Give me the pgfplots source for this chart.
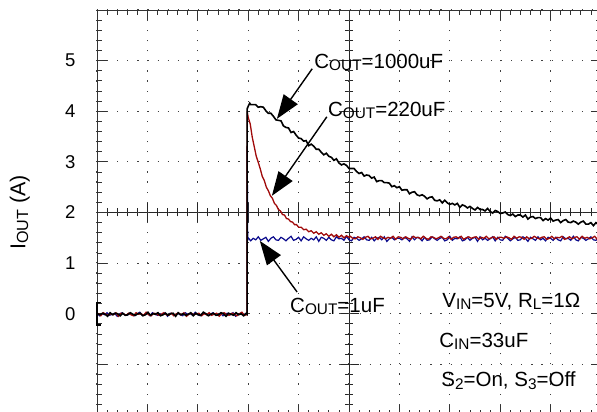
\documentclass[border=0pt]{standalone}
\usepackage{fontspec}
\setmainfont{Liberation Sans}
\usepackage{graphicx}
\usepackage{pgfplots}
\pgfplotsset{compat=1.18}
\usetikzlibrary{arrows.meta}
\definecolor{trblue}{RGB}{10,10,140}
\definecolor{trred}{RGB}{160,10,10}
\newcommand{\sub}[1]{\raisebox{-0.12em}{\scalebox{0.75}{#1}}}
\begin{document}
\begin{tikzpicture}
% centre crosshair of the scope screen
\draw[black!85, line width=0.9pt] (0,202.5pt) -- (504pt,202.5pt);
\draw[black!85, line width=0.9pt] (252pt,0) -- (252pt,405pt);
\foreach \i in {0,...,50} \draw[black!85, line width=0.8pt] (\i*10.08pt,198.5pt) -- ++(0,8pt);
\foreach \i in {0,...,10} \draw[black!85, line width=0.8pt] (\i*50.4pt,192.5pt) -- ++(0,20pt);
\foreach \j in {0,...,40} \draw[black!85, line width=0.8pt] (248pt,\j*10.125pt) -- ++(8pt,0);
\foreach \j in {0,...,8} \draw[black!85, line width=0.8pt] (242pt,\j*50.625pt) -- ++(20pt,0);
\begin{axis}[
  at={(0,0)}, anchor=south west, scale only axis,
  width=504pt, height=405pt,
  xmin=0, xmax=10, ymin=-2, ymax=6,
  axis line style={black!80, line width=0.9pt},
  xtick={0,...,10}, xticklabels={},
  ytick={-2,...,6}, yticklabels={{},{},0,1,2,3,4,5,{}},
  minor x tick num=4, minor y tick num=4,
  major tick length=10pt, minor tick length=5pt,
  tick style={black!80, line width=0.8pt},
  grid=major,
  major grid style={black!75, line width=1.2pt, dash pattern=on 1.2pt off 8.9pt},
  /pgf/number format/assume math mode=true,
  tick label style={font=\fontsize{18.5}{18.5}\selectfont},
  yticklabel style={xshift=-18pt},
  ylabel={I\sub{OUT} (A)},
  ylabel style={at={(axis description cs:-0.153,0.5)}, anchor=center, font=\fontsize{21.5}{21.5}\selectfont},
  clip=false,
]
% C_OUT = 1 uF
\addplot[trblue, line width=1.2pt] table {
0.00 0.01
0.05 -0.04
0.10 0.00
0.15 -0.02
0.20 0.02
0.25 -0.03
0.30 -0.01
0.35 0.01
0.40 -0.05
0.45 0.00
0.50 0.02
0.55 -0.02
0.60 -0.03
0.65 0.01
0.70 -0.01
0.75 -0.04
0.80 0.00
0.85 0.03
0.90 -0.03
0.95 -0.02
1.00 0.01
1.05 -0.04
1.10 0.02
1.15 -0.01
1.20 -0.03
1.25 0.00
1.30 -0.02
1.35 0.02
1.40 -0.05
1.45 0.01
1.50 0.00
1.55 -0.03
1.60 0.01
1.65 -0.02
1.70 -0.04
1.75 0.02
1.80 -0.01
1.85 0.00
1.90 -0.03
1.95 0.03
2.00 -0.02
2.05 -0.04
2.10 0.01
2.15 0.00
2.20 -0.03
2.25 -0.01
2.30 0.02
2.35 -0.02
2.40 -0.03
2.45 0.01
2.50 -0.04
2.55 0.00
2.60 0.01
2.65 -0.02
2.70 0.02
2.75 -0.05
2.80 -0.01
2.85 0.01
2.90 -0.02
2.95 0.00
2.98 -0.01
2.98 3.30
2.99 1.46
3.00 1.50
3.05 1.44
3.10 1.49
3.15 1.46
3.20 1.52
3.25 1.45
3.30 1.48
3.35 1.51
3.40 1.43
3.45 1.49
3.50 1.52
3.55 1.46
3.60 1.45
3.65 1.51
3.70 1.48
3.75 1.44
3.80 1.49
3.85 1.53
3.90 1.45
3.95 1.47
4.00 1.51
4.05 1.44
4.10 1.52
4.15 1.48
4.20 1.45
4.25 1.49
4.30 1.46
4.35 1.52
4.40 1.43
4.45 1.51
4.50 1.49
4.55 1.45
4.60 1.51
4.65 1.46
4.70 1.44
4.75 1.52
4.80 1.48
4.85 1.49
4.90 1.45
4.95 1.53
5.00 1.46
5.05 1.44
5.10 1.51
5.15 1.49
5.20 1.45
5.25 1.48
5.30 1.52
5.35 1.46
5.40 1.45
5.45 1.51
5.50 1.44
5.55 1.49
5.60 1.51
5.65 1.46
5.70 1.52
5.75 1.43
5.80 1.48
5.85 1.51
5.90 1.46
5.95 1.49
6.00 1.49
6.05 1.46
6.10 1.51
6.15 1.48
6.20 1.43
6.25 1.52
6.30 1.46
6.35 1.51
6.40 1.49
6.45 1.44
6.50 1.51
6.55 1.45
6.60 1.46
6.65 1.52
6.70 1.48
6.75 1.45
6.80 1.49
6.85 1.51
6.90 1.44
6.95 1.46
7.00 1.53
7.05 1.45
7.10 1.49
7.15 1.48
7.20 1.52
7.25 1.44
7.30 1.46
7.35 1.51
7.40 1.45
7.45 1.49
7.50 1.51
7.55 1.43
7.60 1.52
7.65 1.46
7.70 1.49
7.75 1.45
7.80 1.48
7.85 1.52
7.90 1.44
7.95 1.51
8.00 1.46
8.05 1.45
8.10 1.53
8.15 1.49
8.20 1.44
8.25 1.48
8.30 1.51
8.35 1.45
8.40 1.46
8.45 1.52
8.50 1.49
8.55 1.43
8.60 1.51
8.65 1.48
8.70 1.45
8.75 1.52
8.80 1.46
8.85 1.49
8.90 1.44
8.95 1.51
9.00 1.49
9.05 1.45
9.10 1.51
9.15 1.46
9.20 1.44
9.25 1.52
9.30 1.48
9.35 1.49
9.40 1.45
9.45 1.53
9.50 1.46
9.55 1.44
9.60 1.51
9.65 1.49
9.70 1.45
9.75 1.48
9.80 1.52
9.85 1.46
9.90 1.45
9.95 1.51
10.00 1.44
};
% C_OUT = 220 uF
\addplot[trred, line width=1.3pt] table {
0.025 0.01
0.075 -0.04
0.125 0.02
0.175 -0.01
0.225 -0.03
0.275 0.00
0.325 -0.02
0.375 0.02
0.425 -0.05
0.475 0.01
0.525 0.00
0.575 -0.03
0.625 0.01
0.675 -0.02
0.725 -0.04
0.775 0.02
0.825 -0.01
0.875 0.00
0.925 -0.03
0.975 0.03
1.025 -0.02
1.075 -0.04
1.125 0.01
1.175 0.00
1.225 -0.03
1.275 -0.01
1.325 0.02
1.375 -0.02
1.425 -0.03
1.475 0.01
1.525 -0.04
1.575 0.00
1.625 0.01
1.675 -0.02
1.725 0.02
1.775 -0.05
1.825 -0.01
1.875 0.01
1.925 -0.02
1.975 0.00
2.025 0.01
2.075 -0.04
2.125 0.00
2.175 -0.02
2.225 0.02
2.275 -0.03
2.325 -0.01
2.375 0.01
2.425 -0.05
2.475 0.00
2.525 0.02
2.575 -0.02
2.625 -0.03
2.675 0.01
2.725 -0.01
2.775 -0.04
2.825 0.00
2.875 0.03
2.925 -0.03
2.975 -0.02
2.98 4.00
3.00 3.88
3.04 3.75
3.08 3.49
3.12 3.30
3.16 3.11
3.20 2.99
3.24 2.86
3.28 2.71
3.32 2.63
3.36 2.50
3.40 2.43
3.44 2.33
3.48 2.28
3.52 2.18
3.56 2.14
3.60 2.06
3.64 2.03
3.68 1.96
3.72 1.95
3.76 1.88
3.80 1.87
3.84 1.82
3.88 1.81
3.92 1.76
3.96 1.76
4.00 1.71
4.05 1.71
4.10 1.66
4.15 1.67
4.20 1.62
4.25 1.64
4.30 1.59
4.35 1.62
4.40 1.57
4.45 1.60
4.50 1.55
4.55 1.58
4.60 1.53
4.65 1.57
4.70 1.52
4.75 1.56
4.80 1.51
4.85 1.55
4.90 1.50
4.95 1.54
5.00 1.51
5.025 1.53
5.075 1.49
5.125 1.48
5.175 1.52
5.225 1.50
5.275 1.47
5.325 1.51
5.375 1.53
5.425 1.48
5.475 1.49
5.525 1.52
5.575 1.47
5.625 1.53
5.675 1.50
5.725 1.48
5.775 1.51
5.825 1.49
5.875 1.53
5.925 1.47
5.975 1.52
6.025 1.51
6.075 1.48
6.125 1.52
6.175 1.49
6.225 1.47
6.275 1.53
6.325 1.50
6.375 1.51
6.425 1.48
6.475 1.53
6.525 1.49
6.575 1.47
6.625 1.52
6.675 1.51
6.725 1.48
6.775 1.50
6.825 1.53
6.875 1.49
6.925 1.48
6.975 1.52
7.025 1.47
7.075 1.51
7.125 1.52
7.175 1.49
7.225 1.53
7.275 1.47
7.325 1.50
7.375 1.52
7.425 1.49
7.475 1.51
7.525 1.52
7.575 1.47
7.625 1.51
7.675 1.49
7.725 1.53
7.775 1.48
7.825 1.50
7.875 1.52
7.925 1.47
7.975 1.51
8.025 1.51
8.075 1.49
8.125 1.52
8.175 1.50
8.225 1.47
8.275 1.53
8.325 1.49
8.375 1.52
8.425 1.51
8.475 1.47
8.525 1.52
8.575 1.48
8.625 1.49
8.675 1.53
8.725 1.50
8.775 1.48
8.825 1.51
8.875 1.52
8.925 1.47
8.975 1.49
9.025 1.53
9.075 1.48
9.125 1.51
9.175 1.50
9.225 1.53
9.275 1.47
9.325 1.49
9.375 1.52
9.425 1.48
9.475 1.51
9.525 1.52
9.575 1.47
9.625 1.53
9.675 1.49
9.725 1.51
9.775 1.48
9.825 1.50
9.875 1.53
9.925 1.47
9.975 1.52
10.00 1.50
};
% C_OUT = 1000 uF
\addplot[black, line width=1.6pt] table {
0.01 0.00
0.06 -0.02
0.11 0.01
0.16 -0.01
0.21 -0.05
0.26 0.02
0.31 -0.02
0.36 0.01
0.41 0.00
0.46 -0.04
0.51 0.01
0.56 -0.03
0.61 -0.02
0.66 0.02
0.71 -0.01
0.76 -0.03
0.81 0.00
0.86 0.01
0.91 -0.04
0.96 -0.02
1.01 0.03
1.06 -0.03
1.11 0.00
1.16 -0.01
1.21 0.02
1.26 -0.04
1.31 -0.02
1.36 0.01
1.41 -0.03
1.46 0.00
1.51 0.01
1.56 -0.05
1.61 0.02
1.66 -0.02
1.71 0.00
1.76 -0.03
1.81 -0.01
1.86 0.02
1.91 -0.04
1.96 0.01
2.01 -0.02
2.06 -0.03
2.11 0.03
2.16 0.00
2.21 -0.04
2.26 -0.01
2.31 0.01
2.36 -0.03
2.41 -0.02
2.46 0.02
2.51 0.00
2.56 -0.05
2.61 0.01
2.66 -0.01
2.71 -0.03
2.76 0.02
2.81 -0.02
2.86 0.00
2.91 -0.04
2.96 0.01
2.98 -0.01
2.98 4.05
3.01 4.12
3.03 4.16
3.05 4.13
3.10 4.13
3.15 4.13
3.20 4.08
3.25 4.09
3.30 4.08
3.35 4.01
3.40 3.96
3.45 3.96
3.50 3.90
3.55 3.83
3.60 3.82
3.65 3.81
3.70 3.71
3.75 3.68
3.80 3.67
3.85 3.58
3.90 3.60
3.95 3.53
4.00 3.47
4.05 3.46
4.10 3.41
4.15 3.42
4.20 3.32
4.25 3.35
4.30 3.31
4.35 3.25
4.40 3.25
4.45 3.19
4.50 3.14
4.55 3.17
4.60 3.11
4.65 3.09
4.70 3.03
4.75 3.06
4.80 2.98
4.85 2.94
4.90 2.96
4.95 2.93
5.00 2.87
5.05 2.87
5.10 2.87
5.15 2.81
5.20 2.77
5.25 2.79
5.30 2.72
5.35 2.74
5.40 2.73
5.45 2.68
5.50 2.70
5.55 2.61
5.60 2.63
5.65 2.63
5.70 2.59
5.75 2.59
5.80 2.58
5.85 2.51
5.90 2.53
5.95 2.49
6.00 2.51
6.05 2.44
6.10 2.45
6.15 2.45
6.20 2.37
6.25 2.40
6.30 2.41
6.35 2.35
6.40 2.33
6.45 2.35
6.50 2.32
6.55 2.27
6.60 2.30
6.65 2.31
6.70 2.24
6.75 2.23
6.80 2.25
6.85 2.19
6.90 2.24
6.95 2.19
7.00 2.16
7.05 2.18
7.10 2.15
7.15 2.18
7.20 2.10
7.25 2.15
7.30 2.13
7.35 2.09
7.40 2.12
7.45 2.08
7.50 2.05
7.55 2.10
7.60 2.06
7.65 2.06
7.70 2.03
7.75 2.08
7.80 2.02
7.85 1.99
7.90 2.04
7.95 2.02
8.00 1.98
8.05 1.99
8.10 2.01
8.15 1.96
8.20 1.94
8.25 1.97
8.30 1.92
8.35 1.95
8.40 1.95
8.45 1.91
8.50 1.95
8.55 1.87
8.60 1.91
8.65 1.92
8.70 1.88
8.75 1.90
8.80 1.90
8.85 1.84
8.90 1.88
8.95 1.85
9.00 1.89
9.05 1.83
9.10 1.85
9.15 1.86
9.20 1.80
9.25 1.84
9.30 1.86
9.35 1.81
9.40 1.80
9.45 1.83
9.50 1.81
9.55 1.77
9.60 1.81
9.65 1.83
9.70 1.77
9.75 1.77
9.80 1.80
9.85 1.74
9.90 1.80
9.95 1.76
10.00 1.74
};
% ground marker
\draw[black, line width=1.6pt] (axis cs:0.07,0.22) -- (axis cs:0,0.22) -- (axis cs:0,-0.22) -- (axis cs:0.07,-0.22);
% annotations
\tikzset{lbl/.style={anchor=west, inner sep=0pt, font=\fontsize{20.5}{21}\selectfont},
         arr/.style={black, line width=1.4pt, -{Triangle[length=24pt,width=17pt]}}}
\node[lbl] at (axis cs:4.31,4.96) {C\sub{OUT}=1000uF};
\draw[arr] (axis cs:4.27,4.84) -- (axis cs:3.57,3.85);
\node[lbl] at (axis cs:4.58,4.02) {C\sub{OUT}=220uF};
\draw[arr] (axis cs:4.56,3.89) -- (axis cs:3.47,2.33);
\node[lbl] at (axis cs:3.83,0.14) {C\sub{OUT}=1uF};
\draw[arr] (axis cs:3.97,0.43) -- (axis cs:3.23,1.44);
\node[lbl] at (axis cs:6.85,0.24) {V\sub{IN}=5V, R\sub{L}=1Ω};
\node[lbl] at (axis cs:6.79,-0.55) {C\sub{IN}=33uF};
\node[lbl] at (axis cs:6.83,-1.32) {S\sub{2}=On, S\sub{3}=Off};
\end{axis}
\pgfresetboundingbox
\useasboundingbox (-97pt,3pt) rectangle (500pt,415pt);
\end{tikzpicture}
\end{document}
